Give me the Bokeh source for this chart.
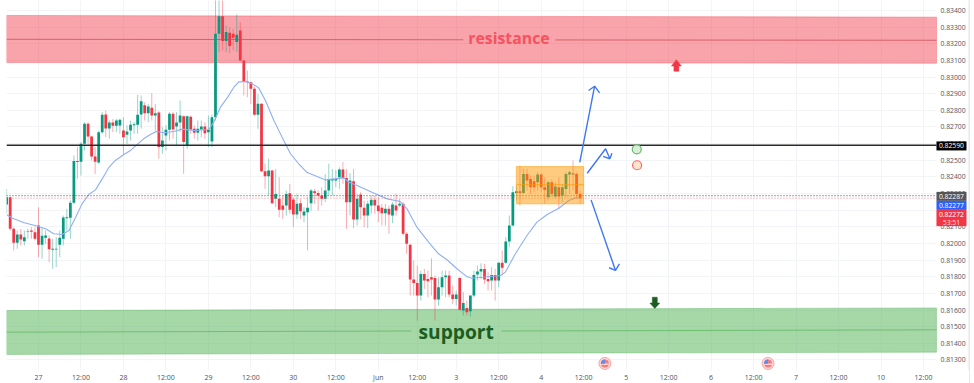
from bokeh.plotting import figure
from bokeh.models import Range1d, LinearAxis, FixedTicker, PrintfTickFormatter
from bokeh.core.properties import value
from bokeh.embed import file_html
from bokeh.resources import INLINE
from math import pi

# Hourly OHLC, in 1e-5 price units: open, high, low, close
ohlc = [
(82234,82328,82178,82278),(82278,82278,82078,82088),(82088,82098,81958,82004),(82004,82078,81968,82054),
(82054,82088,81988,82024),(82014,82078,81988,82038),(82070,82088,82028,82074),(82078,82098,82028,82070),
(82068,82098,82018,82028),(82108,82218,81918,81992),(81992,82098,81908,82046),(82034,82078,81998,82048),
(82030,82048,81888,81966),(81962,82028,81848,81968),(81964,82038,81858,81968),(81992,82078,81918,82034),
(82028,82168,81988,82156),(82152,82208,82078,82158),(82154,82258,82028,82244),(82244,82529,82238,82495),
(82495,82579,82388,82489),(82491,82609,82408,82599),(82599,82729,82559,82719),(82719,82729,82599,82643),
(82643,82649,82499,82523),(82523,82579,82418,82491),(82487,82679,82479,82669),(82669,82789,82659,82773),
(82775,82799,82639,82691),(82691,82739,82629,82727),(82727,82749,82669,82707),(82707,82749,82669,82739),
(82709,82749,82659,82743),(82679,82759,82539,82639),(82653,82709,82599,82673),(82679,82739,82619,82713),
(82711,82729,82659,82717),(82713,82893,82659,82773),(82775,82889,82689,82855),(82831,82849,82739,82783),
(82783,82839,82729,82823),(82815,82903,82739,82769),(82769,82839,82675,82783),(82787,82795,82509,82579),
(82579,82699,82539,82619),(82649,82709,82559,82683),(82683,82789,82619,82779),(82779,82789,82629,82685),
(82703,82789,82589,82727),(82727,82859,82669,82769),(82765,82769,82418,82609),(82585,82769,82569,82765),
(82761,82769,82659,82685),(82689,82709,82629,82665),(82665,82739,82619,82689),(82685,82739,82639,82703),
(82703,82729,82629,82663),(82669,82769,82579,82683),(82613,82775,82579,82759),(82759,83480,82739,83260),
(83260,83470,83150,83366),(83366,83500,83160,83216),(83216,83310,83150,83270),(83266,83300,83144,83186),
(83260,83290,83160,83236),(83210,83376,83150,83254),(83280,83330,83095,83099),(83099,83103,82889,82973),
(82973,83039,82879,82969),(82969,82973,82839,82929),(82929,82943,82769,82773),(82773,82899,82689,82839),
(82839,82843,82428,82434),(82434,82479,82328,82404),(82404,82509,82288,82438),(82438,82442,82238,82242),
(82268,82448,82218,82298),(82268,82398,82158,82202),(82228,82288,82148,82202),(82228,82318,82168,82298),
(82302,82358,82178,82202),(82264,82278,82098,82174),(82174,82298,82148,82238),(82242,82268,82148,82194),
(82168,82218,82128,82192),(82188,82278,81958,82214),(82242,82328,82198,82318),(82314,82328,82238,82304),
(82304,82318,82198,82288),(82288,82338,82228,82268),(82268,82418,82248,82318),(82318,82479,82288,82384),
(82378,82448,82288,82388),(82378,82442,82338,82388),(82398,82458,82328,82444),(82444,82489,82358,82394),
(82394,82448,82088,82248),(82248,82422,82168,82378),(82374,82448,82092,82144),(82144,82298,82108,82268),
(82294,82308,82144,82218),(82214,82258,82098,82168),(82168,82258,82092,82238),(82228,82288,82178,82262),
(82262,82288,82178,82228),(82228,82278,82128,82194),(82214,82238,82108,82182),(82182,82238,82108,82208),
(82208,82228,82058,82174),(82168,82248,82122,82234),(82228,82298,82168,82198),(82228,82268,82218,82238),
(82238,82248,82048,82058),(82058,82068,81938,81998),(81992,81998,81687,81783),(81783,81897,81687,81763),
(81763,81867,81537,81687),(81687,81837,81657,81817),(81817,81847,81727,81777),(81787,81837,81677,81773),
(81797,81911,81687,81783),(81793,81807,81537,81663),(81663,81797,81627,81737),(81737,81837,81687,81797),
(81797,81837,81677,81807),(81807,81837,81677,81693),(81693,81747,81637,81667),(81667,81717,81627,81693),
(81793,81797,81597,81601),(81597,81707,81567,81643),(81613,81657,81567,81587),(81593,81687,81561,81687),
(81687,81837,81677,81811),(81813,81867,81777,81831),(81831,81881,81787,81847),(81847,81877,81757,81783),
(81787,81827,81717,81773),(81777,81857,81717,81811),(81811,81847,81657,81777),(81777,81887,81737,81884),
(81884,81958,81808,81854),(81884,82038,81878,82012),(82012,82168,81978,82108),(82108,82344,82102,82308),
(82304,82344,82258,82314),(82314,82468,82228,82304),(82304,82448,82298,82418),(82418,82448,82318,82378),
(82388,82408,82298,82338),(82374,82408,82308,82338),(82368,82428,82318,82414),(82414,82422,82308,82338),
(82338,82398,82238,82322),(82278,82378,82258,82368),(82368,82388,82278,82298),(82282,82368,82268,82342),
(82338,82398,82208,82282),(82288,82358,82248,82338),(82328,82428,82278,82418),(82414,82438,82298,82428),
(82422,82498,82318,82414),(82418,82428,82278,82298),(82298,82318,82242,82272),
]
first_hour = -9

ma_hours = [-9,-7,-4,-1,2,4.3,6.7,8.6,10.5,12.3,14.2,16.1,18,19.9,21.7,24.1,26,27.9,29.7,31.6,33.3,35.4,38.2,40.6,43.9,48.1,
            49.5,51.4,53.3,55.2,56.6,58.5,60.4,62.2,64.1,66.5,68.8,71.2,73.5,75.9,78.7,81.1,86.2,87.7,90,94.2,98.5,102.2,
            104.1,106.9,110.2,113,115.4,118.2,121,122.4,125.7,130.5,131.9,134.7,138,140.8,143.7,147,149.8,151.7,153]
ma_vals = [82172,82148,82124,82108,82088,82058,82054,82078,82158,82238,82294,82322,82388,82458,82499,82535,82559,82595,82629,
           82655,82673,82665,82673,82687,82679,82685,82729,82819,82875,82939,82971,82973,82959,82935,82859,82739,82639,82539,
           82479,82426,82402,82382,82394,82368,82348,82308,82268,82252,82208,82098,82008,81938,81902,81848,81801,81791,81797,
           81808,81828,81938,82048,82128,82174,82212,82258,82274,82274]

price_ticks = [0.813,0.814,0.815,0.816,0.817,0.818,0.819,0.820,0.821,0.822,0.823,0.824,0.825,0.826,0.827,0.828,0.829,0.830,0.831,0.832,0.833,0.834]
time_ticks = [0,12,24,36,48,60,72,84,96,107,118,130,142,154,166,178,190,202,214,226,238,250]
time_labels = ["27","12:00","28","12:00","29","12:00","30","12:00","Jun","12:00","3","12:00","4","12:00","5","12:00","6","12:00","7","12:00","10","12:00"]

X_MIN, X_PANE, X_MAX = -9.04, 253.67, 263.0
Y_MIN, Y_MAX = 0.812367, 0.8346

res_x = [X_MIN, X_PANE, X_PANE, X_MIN]
res_y = [0.83370, 0.83360, 0.83083, 0.83087]
sup_y = [0.81597, 0.81613, 0.81347, 0.81333]
res_mid_left = ([X_MIN, 120], [0.83227, 0.83224])
res_mid_right = ([146, X_PANE], [0.83223, 0.83221])
sup_mid_left = ([X_MIN, 105.3], [0.81467, 0.81474])
sup_mid_right = ([130.8, X_PANE], [0.81474, 0.81481])
level = 0.82590
last_bid, last_ask = 0.82287, 0.82272
box_x, box_y, box_mid = (135, 154), (0.82238, 0.82462), 0.82353
arrow_up = ([152.9,157.1],[0.82488,0.82945]); arrow_up_head = ([155.4,157.1,158.5],[0.82919,0.82945,0.82905])
arrow_zig = ([155,160.2,161.4,162],[0.82422,0.82569,0.82509,0.82542]); arrow_zig_head = ([159.5,161.4],[0.82523,0.82509])
arrow_dn = ([156.1,163],[0.82262,0.81838]); arrow_dn_head = ([161.2,163,164.1],[0.81854,0.81838,0.81878])
red_marker_x = [180.2,181.6,180.9,180.9,179.5,179.5,178.8]
red_marker_y = [0.83104,0.83066,0.83066,0.83035,0.83035,0.83066,0.83066]
green_marker_x = [174.1,175.5,174.8,174.8,173.4,173.4,172.7]
green_marker_y = [0.81609,0.81642,0.81642,0.81677,0.81677,0.81642,0.81642]
flag_hours = [160, 206.1]
flag_price = 0.81279

# price tags on the scale
tag_left, tag_right, tag_mid = 253.67, 262.15, 257.9
tag_tops = [0.82613, 0.82310, 0.82256, 0.82202]
tag_bottoms = [0.82559, 0.82256, 0.82202, 0.82104]
tag_colors = ["#000000", "#555555", "#2962FF", "#F23645"]
tag_texts = ["0.82590", "0.82287", "0.82277", "0.82272", "53:51"]
tag_text_y = [0.82587, 0.82283, 0.82229, 0.82175, 0.82128]
tag_text_colors = ["#FFFFFF", "#FFFFFF", "#FFFFFF", "#FFFFFF", "#FFD9DC"]

GREEN, RED = "#089981", "#F23645"
p = figure(width=969, height=383, frame_width=963, frame_height=370, output_backend="svg", toolbar_location=None,
           x_range=Range1d(X_MIN, X_MAX), y_range=Range1d(Y_MIN, Y_MAX),
           min_border_left=6, min_border_right=0, min_border_top=0, min_border_bottom=13,
           x_axis_location="below", y_axis_location=None, outline_line_color=None)
p.styles = {"position": "absolute", "left": "0px", "top": "0px", "border-right": "1px solid #E6E8EE"}
p.background_fill_color = "#ffffff"

xa = p.xaxis[0]
xa.ticker = FixedTicker(ticks=time_ticks)
xa.major_label_overrides = {t: l for t, l in zip(time_ticks, time_labels)}
xa.major_tick_line_color = None; xa.minor_tick_line_color = None; xa.axis_line_color = None
xa.major_tick_out = 0; xa.major_tick_in = 0; xa.minor_tick_out = 0; xa.minor_tick_in = 0
xa.major_label_text_font = "Open Sans"; xa.major_label_text_font_size = "7px"; xa.major_label_text_color = "#50535E"
xa.major_label_standoff = 2

ya = LinearAxis(ticker=FixedTicker(ticks=price_ticks), formatter=PrintfTickFormatter(format="%.5f"), fixed_location=X_PANE)
ya.major_tick_line_color = None; ya.minor_tick_line_color = None; ya.axis_line_color = None
ya.major_tick_out = 0; ya.major_tick_in = 0; ya.minor_tick_out = 0; ya.minor_tick_in = 0
ya.major_label_text_font = "Open Sans"; ya.major_label_text_font_size = "6.8px"; ya.major_label_text_color = "#50535E"
ya.major_label_standoff = 4
p.add_layout(ya, "right")

p.xgrid[0].ticker = FixedTicker(ticks=time_ticks)
p.xgrid[0].grid_line_color = "#F3F4F8"
p.ygrid[0].ticker = FixedTicker(ticks=price_ticks)
p.ygrid[0].grid_line_color = "#F3F4F8"

# keeps the grid out of the scale column
p.quad(left=[X_PANE], right=[X_MAX], bottom=[Y_MIN], top=[Y_MAX], fill_color="#FFFFFF", line_color=None)
p.segment([X_MAX - 0.15], [Y_MIN], [X_MAX - 0.15], [Y_MAX], line_color="#E6E8EE", line_width=1)

hours = [first_hour + i for i in range(len(ohlc))]
o = [r[0] / 1e5 for r in ohlc]; h = [r[1] / 1e5 for r in ohlc]
l = [r[2] / 1e5 for r in ohlc]; c = [r[3] / 1e5 for r in ohlc]
cols = [GREEN if cc >= oo else RED for oo, cc in zip(o, c)]

p.patch(res_x, res_y, fill_color="#F23645", fill_alpha=0.45, line_color="#F23645", line_alpha=0.35, line_width=1)
p.patch(res_x, sup_y, fill_color="#4CAF50", fill_alpha=0.5, line_color="#4CAF50", line_alpha=0.35, line_width=1)
for xs, ys in (res_mid_left, res_mid_right):
    p.line(xs, ys, line_color="#D9606B", line_width=1)
for xs, ys in (sup_mid_left, sup_mid_right):
    p.line(xs, ys, line_color="#6FBF73", line_width=1)

p.segment(hours, h, hours, l, line_color=cols, line_alpha=0.42, line_width=1)
p.vbar(hours, width=0.78, top=[max(a, b) for a, b in zip(o, c)], bottom=[min(a, b) for a, b in zip(o, c)],
       fill_color=cols, line_color=None)

p.line(ma_hours, [v / 1e5 for v in ma_vals], line_color="#8FAFF5", line_width=1.1)

p.segment([X_MIN], [level], [X_PANE], [level], line_color="#2A2A2A", line_width=1.4)
p.segment([X_MIN], [last_bid], [X_PANE], [last_bid], line_color="#444444", line_width=1, line_dash="1 2")
p.segment([X_MIN], [last_ask], [X_PANE], [last_ask], line_color="#F23645", line_alpha=0.6, line_width=1, line_dash="1 2")

p.quad(left=[box_x[0]], right=[box_x[1]], bottom=[box_y[0]], top=[box_y[1]], fill_color="#FF9800", fill_alpha=0.5,
       line_color="#FF9800", line_alpha=0.5)
p.segment([box_x[0]], [box_mid], [box_x[1]], [box_mid], line_color="#FF9800", line_alpha=0.7, line_width=1)

for xs, ys in (arrow_up, arrow_up_head, arrow_zig, arrow_zig_head, arrow_dn, arrow_dn_head):
    p.line(xs, ys, line_color="#3F78F2", line_width=1.4)

p.patch(red_marker_x, red_marker_y, fill_color="#F23645", line_color="#F23645", line_width=0.5)
p.patch(green_marker_x, green_marker_y, fill_color="#1B5E20", line_color="#1B5E20", line_width=0.5)

p.scatter([169], [0.82566], size=9, fill_color="#D9EFD9", line_color="#66BB6A", line_width=1.2)
p.scatter([169.1], [0.82470], size=9, fill_color="#FFE3CC", line_color="#F8666E", line_width=1.2)

p.scatter(flag_hours, [flag_price] * 2, size=12, fill_color="#FFD6D6", line_color="#F9A3A3", line_width=1)
p.scatter(flag_hours, [flag_price] * 2, size=8, fill_color="#F77C7C", line_color=None)
p.scatter(flag_hours, [flag_price - 0.00004] * 2, marker="dash", size=8, line_color="#FFFFFF", line_width=1)
p.wedge(flag_hours, [flag_price] * 2, radius=4, radius_units="screen", start_angle=pi * 0.5, end_angle=pi * 1.05,
        fill_color="#5B8DEF", line_color=None)

p.text([132.9], [0.83232], text=["resistance"], text_align="center", text_baseline="middle", text_font=value("Open Sans"),
       text_font_size="15.8px", text_font_style="bold", text_color="#F7525F")
p.text([118], [0.81473], text=["support"], text_align="center", text_baseline="middle", text_font=value("Open Sans"),
       text_font_size="19.2px", text_font_style="bold", text_color="#1B5E20")

p.quad(left=[tag_left] * 4, right=[tag_right] * 4, top=tag_tops, bottom=tag_bottoms, fill_color=tag_colors,
       line_color=None, level="overlay")
p.text([tag_mid] * 5, tag_text_y, text=tag_texts, text_align="center", text_baseline="middle", text_font=value("Open Sans"),
       text_font_size="6.8px", text_color=tag_text_colors, level="overlay")

open("out.html", "w").write(file_html(p, INLINE))
